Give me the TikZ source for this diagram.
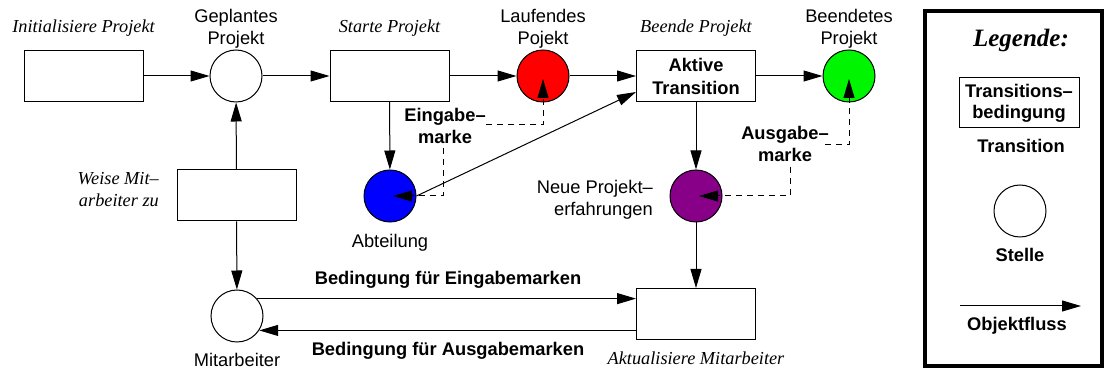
\documentclass[tikz,border=0pt]{standalone}
\usepackage{fontspec}
\setmainfont{Liberation Sans}
\newfontfamily\serifit{Liberation Serif}
\usetikzlibrary{arrows.meta}

\definecolor{tokred}{RGB}{255,0,0}
\definecolor{tokgreen}{RGB}{0,245,0}
\definecolor{tokblue}{RGB}{0,0,255}
\definecolor{tokpurple}{RGB}{136,0,136}

\begin{document}
\begin{tikzpicture}[x=1pt,y=-1pt,
  every node/.style={font=\fontsize{18.3}{22}\selectfont, inner sep=0pt},
  trans/.style={draw, line width=1pt, minimum width=119pt, minimum height=51pt},
  place/.style={draw, circle, line width=1pt, minimum size=52pt},
  lbl/.style={anchor=base, align=center},
  act/.style={lbl, font=\serifit\itshape\fontsize{18.3}{22}\selectfont},
  bf/.style={lbl, font=\bfseries\fontsize{18.3}{22}\selectfont},
  flow/.style={line width=1pt, -{Triangle[length=19pt,width=11pt]}},
  token/.style={line width=1pt, dash pattern=on 6pt off 5pt,
                -{Triangle[length=19pt,width=11pt]}, shorten >=3pt},
]
\useasboundingbox (0,0) rectangle (1104,371);

% transitions and places
\node[trans] (init) at (83.5,76) {};
\node[place] (gepl) at (236,76) {};
\node[trans] (start) at (389.5,76) {};
\node[place, fill=tokred] (lauf) at (543,76) {};
\node[trans, align=center, font=\bfseries\fontsize{18.3}{23}\selectfont] (akt) at (696,76) {Aktive\\Transition};
\node[place, fill=tokgreen] (beend) at (849,76) {};
\node[trans] (weise) at (236.5,195.5) {};
\node[place, fill=tokblue] (abt) at (390,196) {};
\node[place, fill=tokpurple] (neu) at (696,196) {};
\node[place] (mit) at (237,316) {};
\node[trans] (aktu) at (696,314) {};

% labels (two-line labels are placed by the baseline of their last line)
\node[act] (l-init) at (83.5,33) {Initialisiere Projekt};
\node[lbl] (l-gepl) at (236,45) {Geplantes\\Projekt};
\node[act] (l-start) at (389.5,33) {Starte Projekt};
\node[lbl] (l-lauf) at (543,45) {Laufendes\\Pojekt};
\node[act] (l-akt) at (696,33) {Beende Projekt};
\node[lbl] (l-beend) at (849,45) {Beendetes\\Projekt};
\node[act, anchor=base east, align=right] (l-weise) at (159,207) {Weise Mit–\\arbeiter zu};
\node[lbl] (l-abt) at (390,248) {Abteilung};
\node[lbl, anchor=base east, align=right] (l-neu) at (653,216) {Neue Projekt–\\erfahrungen};
\node[lbl] (l-mit) at (237,367) {Mitarbeiter};
\node[act] (l-aktu) at (696,365) {Aktualisiere Mitarbeiter};
\node[bf] (l-ein) at (445,144) {Eingabe–\\marke};
\node[bf] (l-aus) at (785,162) {Ausgabe–\\marke};
\node[bf] (l-bein) at (448,285) {Bedingung für Eingabemarken};
\node[bf] (l-baus) at (448,356) {Bedingung für Ausgabemarken};

% object flow
\draw[flow] (init) -- (gepl);
\draw[flow] (gepl) -- (start);
\draw[flow] (start) -- (lauf);
\draw[flow] (lauf) -- (akt);
\draw[flow] (akt) -- (beend);
\draw[flow] (weise) -- (gepl);
\draw[flow] (weise) -- (mit);
\draw[flow] (start) -- (abt);
\draw[flow] (akt) -- (neu);
\draw[flow] (neu) -- (aktu);
\draw[flow] (abt.east) -- ([yshift=-16pt]akt.west);
\draw[flow] (mit.41) -- (mit.41 -| aktu.west);
\draw[flow] (mit.-33 -| aktu.west) -- (mit.-33);

% token references
\coordinate (ein-a) at (486,125);
\coordinate (ein-b) at (443,148);
\coordinate (aus-a) at (825,145);
\coordinate (aus-b) at (790,167);
\draw[token] (ein-a) -| (lauf.center);
\draw[token] (ein-b) |- (abt.center);
\draw[token] (aus-a) -| (beend.center);
\draw[token] (aus-b) |- (neu.center);

% legend
\draw[line width=4pt] (925,11) rectangle (1102,366);
\node[lbl, font=\serifit\bfseries\itshape\fontsize{25}{30}\selectfont] (leg-title) at (1021,47) {Legende:};
\node[trans, minimum width=120pt, minimum height=50pt, align=center, font=\bfseries\fontsize{18.3}{21}\selectfont] (leg-trans) at (1019,103) {Transitions–\\bedingung};
\node[bf] (leg-tl) at (1021,153) {Transition};
\node[place] (leg-place) at (1020,211) {};
\node[bf] (leg-pl) at (1020,262) {Stelle};
\coordinate (leg-a) at (960,306);
\coordinate (leg-b) at (1081,306);
\draw[flow] (leg-a) -- (leg-b);
\node[bf] (leg-fl) at (1017,331) {Objektfluss};
\end{tikzpicture}
\end{document}
